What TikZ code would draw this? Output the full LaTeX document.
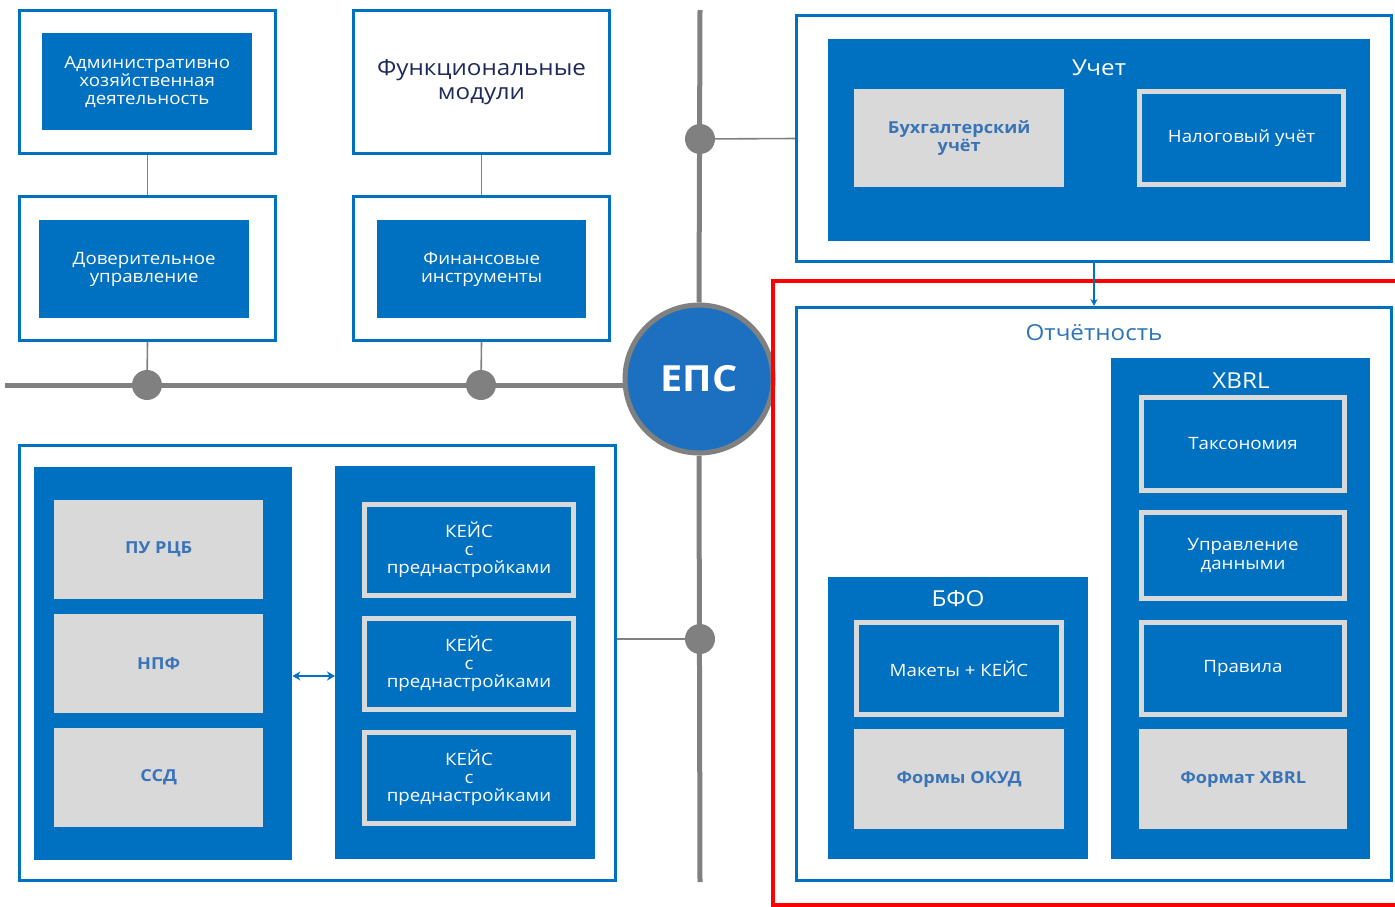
\documentclass[tikz,border=0pt]{standalone}
\usepackage{fontspec}
\setmainfont{Open Sans}[FakeStretch=1.1]
\usetikzlibrary{arrows.meta,backgrounds}
\definecolor{blu}{HTML}{0070C0}
\definecolor{epc}{HTML}{1D6FC0}
\definecolor{lgr}{HTML}{D9D9D9}
\definecolor{gln}{HTML}{808080}
\definecolor{gtx}{HTML}{3A74B8}
\definecolor{navy}{HTML}{1F2A5C}
\definecolor{otc}{HTML}{2E75B6}
\tikzset{
  outerbox/.style={draw=blu, line width=3pt, fill=white, anchor=north west, inner sep=0pt},
  bluebox/.style={fill=blu, anchor=north west, inner sep=0pt, text=white, align=center, font=\fontsize{17}{18}\selectfont},
  graybox/.style={fill=lgr, anchor=north west, inner sep=0pt, text=gtx, align=center, font=\fontsize{16.5}{18}\selectfont\bfseries},
  framebox/.style={fill=blu, draw=lgr, line width=5pt, anchor=north west, inner sep=0pt, text=white, align=center, font=\fontsize{17}{18}\selectfont},
  title/.style={font=\fontsize{22}{24}\selectfont, inner sep=0pt},
  gline/.style={draw=gln, line width=1.6pt},
  gbar/.style={draw=gln, line width=5pt},
  gdot/.style={circle, fill=gln, minimum size=30pt, inner sep=0pt},
  barr/.style={draw=blu, line width=1.4pt}
}
\begin{document}
\begin{tikzpicture}[x=1pt,y=-1pt]
\useasboundingbox (0,0) rectangle (1395,907);
% top-left boxes
\node[outerbox, minimum width=256pt, minimum height=143pt] (adm) at (18,9) {};
\node[bluebox, minimum width=210pt, minimum height=97pt] (admi) at (42,33) {Административно\\хозяйственная\\деятельность};
\node[outerbox, minimum width=256pt, minimum height=143pt, text=navy, align=center, font=\fontsize{22}{24}\selectfont] (fm) at (352,9) {Функциональные\\модули};
\node[outerbox, minimum width=256pt, minimum height=144pt] (dov) at (18,195) {};
\node[bluebox, minimum width=210pt, minimum height=98pt] (dovi) at (39,220) {Доверительное\\управление};
\node[outerbox, minimum width=256pt, minimum height=144pt] (fin) at (352,195) {};
\node[bluebox, minimum width=209pt, minimum height=98pt] (fini) at (377,220) {Финансовые\\инструменты};

% EPS circle and dots
\node[circle, fill=epc, draw=gln, line width=5pt, minimum size=148pt, inner sep=0pt, text=white, font=\fontsize{36}{36}\selectfont\bfseries] (eps) at (699,379) {ЕПС};
\node[gdot] (d1) at (147,385) {};
\node[gdot] (d2) at (481,385) {};
\node[gdot] (d3) at (700,139) {};
\node[gdot] (d4) at (700,639) {};
\coordinate (barL) at (5,385);
\coordinate (vTop) at (700,10);
\coordinate (vBot) at (700,882);

% Uchet
\node[outerbox, minimum width=595pt, minimum height=246pt] (uch) at (795,14) {};
\node[bluebox, minimum width=542pt, minimum height=202pt] (uchi) at (828,39) {};
\node[title, text=white] (uchT) at (1099,68) {Учет};
\node[graybox, minimum width=210pt, minimum height=98pt] (buh) at (854,89) {Бухгалтерский\\учёт};
\node[framebox, minimum width=204pt, minimum height=93pt] (nal) at (1137,89) {Налоговый учёт};

% Reporting
\draw[red, line width=4pt] (1400,281) -- (773,281) -- (773,905) -- (1400,905);
\node[outerbox, minimum width=595pt, minimum height=573pt] (otc) at (795,306) {};
\node[title, text=otc] (otcT) at (1094,333) {Отчётность};
\node[bluebox, minimum width=259pt, minimum height=501pt] (xb) at (1111,358) {};
\node[title, text=white] (xbT) at (1241,381) {XBRL};
\node[framebox, minimum width=203pt, minimum height=93pt] (tax) at (1139,395) {Таксономия};
\node[framebox, minimum width=203pt, minimum height=86pt] (upr) at (1139,510) {Управление\\данными};
\node[framebox, minimum width=203pt, minimum height=92pt] (prv) at (1139,620) {Правила};
\node[graybox, minimum width=208pt, minimum height=100pt] (fxb) at (1139,729) {Формат XBRL};
\node[bluebox, minimum width=260pt, minimum height=282pt] (bfo) at (828,577) {};
\node[title, text=white] (bfoT) at (958,599) {БФО};
\node[framebox, minimum width=205pt, minimum height=92pt] (mak) at (854,620) {Макеты + КЕЙС};
\node[graybox, minimum width=210pt, minimum height=100pt] (okud) at (854,729) {Формы ОКУД};

% bottom-left
\node[outerbox, minimum width=596pt, minimum height=435pt] (bl) at (18,444) {};
\node[bluebox, minimum width=258pt, minimum height=393pt] (lb) at (34,467) {};
\node[graybox, minimum width=209pt, minimum height=99pt] (pu) at (54,500) {ПУ РЦБ};
\node[graybox, minimum width=209pt, minimum height=99pt] (npf) at (54,614) {НПФ};
\node[graybox, minimum width=209pt, minimum height=99pt] (ssd) at (54,728) {ССД};
\node[bluebox, minimum width=260pt, minimum height=393pt] (rb) at (335,466) {};
\node[framebox, minimum width=209pt, minimum height=91pt] (k1) at (362,502) {КЕЙС\\с\\преднастройками};
\node[framebox, minimum width=209pt, minimum height=91pt] (k2) at (362,616) {КЕЙС\\с\\преднастройками};
\node[framebox, minimum width=209pt, minimum height=91pt] (k3) at (362,730) {КЕЙС\\с\\преднастройками};
\coordinate (arY) at (0,676);

% connectors
\begin{scope}[on background layer]
\draw[gline] (adm.south) -- (dov.north);
\draw[gline] (fm.south) -- (fin.north);
\draw[gline] (dov.south) -- (d1);
\draw[gline] (fin.south) -- (d2);
\draw[gbar] (barL) -- (barL -| eps.center);
\draw[gbar] (vTop) -- (eps.north);
\draw[gbar] (eps.south) -- (vBot);
\draw[gline] (d3) -- (uch.west);
\draw[gline] (d4) -- (d4 -| bl.east);
\end{scope}
\draw[barr, -{Stealth[length=7pt,width=7pt]}] (uch.south) -- (otc.north);
\draw[barr, line width=2pt, {Stealth[length=8pt,width=9pt]}-{Stealth[length=8pt,width=9pt]}] (lb.east |- arY) -- (rb.west |- arY);
\end{tikzpicture}
\end{document}
